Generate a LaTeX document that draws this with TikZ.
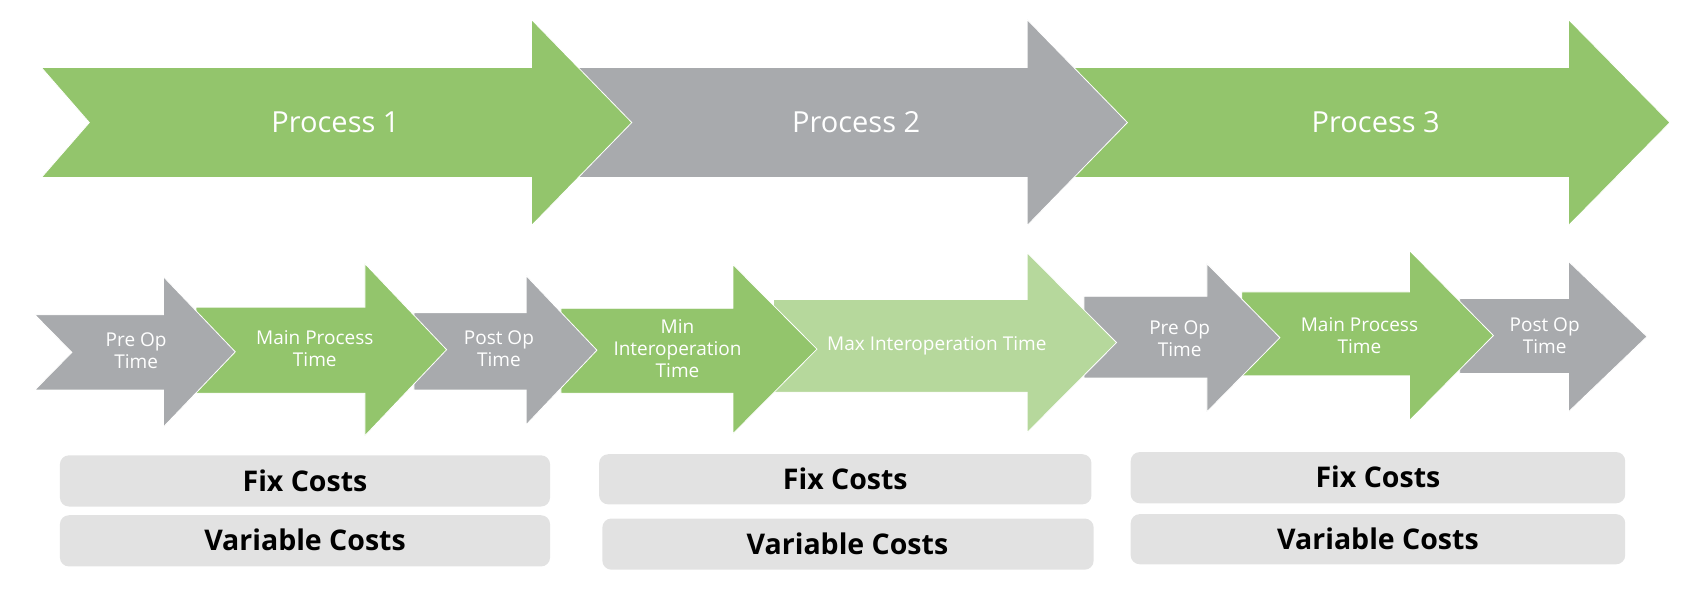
\documentclass[tikz,border=0pt]{standalone}
\usepackage{fontspec}
\setmainfont{Open Sans}
\definecolor{pgreen}{HTML}{93C56C}
\definecolor{pgray}{HTML}{A8AAAD}
\definecolor{plight}{HTML}{B6D89C}
\definecolor{pbox}{HTML}{E2E2E2}
\newcommand\procarrow[9]{%
  \fill[#1,draw=white,line width=0.8pt,line join=miter]
    (#2,#4) -- (#6,#4) -- (#6,#7) -- (#9,{(#7+#8)/2}) -- (#6,#8) -- (#6,#5) -- (#2,#5) -- (#3,{(#4+#5)/2}) -- cycle;}
\tikzset{
  bigtxt/.style={text=white,font=\fontsize{29}{34}\selectfont,align=center},
  smalltxt/.style={text=white,font=\fontsize{19}{22}\selectfont,align=center},
  costbox/.style={fill=pbox,rounded corners=9pt},
  costtxt/.style={text=black,font=\bfseries\fontsize{28.5}{33}\selectfont}
}
\begin{document}
\begin{tikzpicture}[x=1.08929pt,y=-1.08929pt]
\useasboundingbox (0,0) rectangle (1568,560);
% top row (drawn back to front)
\procarrow{pgreen}{985}{985}{62}{163}{1440}{18}{207}{1533}
\procarrow{pgray}{530}{530}{62}{163}{943}{18}{207}{1035}
\procarrow{pgreen}{38}{82}{62}{163}{488}{18}{207}{580}
\node[bigtxt] (p1) at (308,112) {Process 1};
\node[bigtxt] (p2) at (786,112) {Process 2};
\node[bigtxt] (p3) at (1263,112) {Process 3};
% bottom row (drawn back to front)
\procarrow{pgray}{1340}{1340}{274}{343}{1440}{240}{378}{1512}
\procarrow{pgreen}{1140}{1140}{268}{345}{1294}{230}{386}{1371}
\procarrow{pgray}{995}{995}{272}{347}{1108}{242}{378}{1175}
\procarrow{plight}{710}{710}{275}{360}{943}{232}{397}{1025}
\procarrow{pgreen}{515}{515}{283}{361}{673}{243}{398}{750}
\procarrow{pgray}{380}{380}{287}{358}{483}{253}{390}{548}
\procarrow{pgreen}{180}{180}{282}{361}{335}{242}{400}{410}
\procarrow{pgray}{32}{66}{289}{358}{150}{254}{392}{216}
\node[smalltxt] (a1) at (125,322) {Pre Op\\Time};
\node[smalltxt] (a2) at (289,320) {Main Process\\Time};
\node[smalltxt] (a3) at (458,320) {Post Op\\Time};
\node[smalltxt] (a4) at (622,320) {Min\\Interoperation\\Time};
\node[smalltxt] (a5) at (860,317) {Max Interoperation Time};
\node[smalltxt] (a6) at (1083,311) {Pre Op\\Time};
\node[smalltxt] (a7) at (1248,308) {Main Process\\Time};
\node[smalltxt] (a8) at (1418,308) {Post Op\\Time};
% cost boxes
\fill[costbox] (55,418) rectangle (505,465);
\fill[costbox] (55,473) rectangle (505,520);
\fill[costbox] (550,417) rectangle (1002,463);
\fill[costbox] (553,476) rectangle (1004,523);
\fill[costbox] (1038,415) rectangle (1492,462);
\fill[costbox] (1038,472) rectangle (1492,518);
\node[costtxt] (f1) at (280,441) {Fix Costs};
\node[costtxt] (v1) at (280,496) {Variable Costs};
\node[costtxt] (f2) at (776,440) {Fix Costs};
\node[costtxt] (v2) at (778,499) {Variable Costs};
\node[costtxt] (f3) at (1265,438) {Fix Costs};
\node[costtxt] (v3) at (1265,495) {Variable Costs};
\end{tikzpicture}
\end{document}
